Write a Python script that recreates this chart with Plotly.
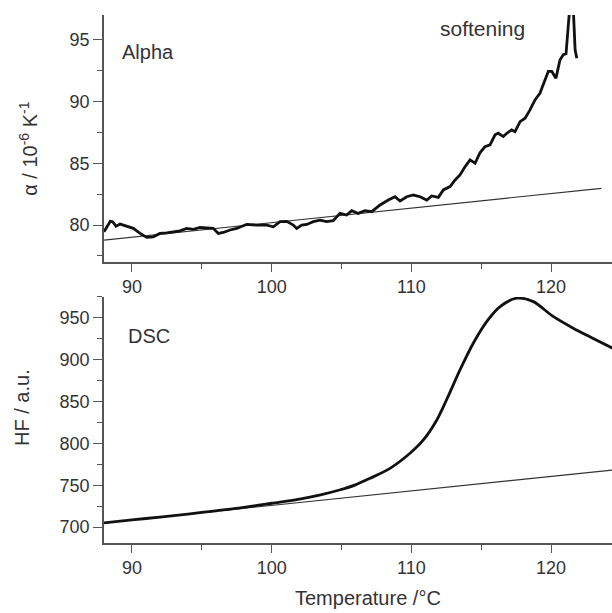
import plotly.graph_objects as go

# ---- Data: dilatometry (Alpha) ----
alpha_T = [88.0, 88.19, 88.45, 88.62, 88.86, 89.15, 89.62, 90.1, 90.58, 91.06, 91.53, 92.0,
           92.49, 92.96, 93.44, 93.92, 94.39, 94.87, 95.35, 95.82, 96.18, 96.54, 97.02, 97.5,
           97.97, 98.21, 98.93, 99.65, 100.12, 100.6, 101.08, 101.55, 101.79, 102.15, 102.51,
           102.98, 103.46, 103.94, 104.41, 104.89, 105.37, 105.73, 106.2, 106.68, 107.16,
           107.76, 108.35, 108.83, 109.19, 109.67, 110.14, 110.62, 111.1, 111.46, 111.93,
           112.29, 112.77, 113.13, 113.48, 113.84, 114.2, 114.56, 114.91, 115.27, 115.63,
           115.99, 116.22, 116.58, 116.83, 117.18, 117.42, 117.78, 118.14, 118.49, 118.85,
           119.21, 119.57, 119.8, 120.05, 120.35, 120.64, 120.88, 121.07, 121.24, 121.4,
           121.55, 121.72, 121.84]
alpha_val = [79.45, 79.86, 80.3, 80.27, 79.9, 80.08, 79.92, 79.73, 79.32, 79.0, 79.05, 79.32,
             79.37, 79.45, 79.53, 79.73, 79.65, 79.8, 79.78, 79.73, 79.32, 79.4, 79.6, 79.73,
             79.94, 80.05, 80.0, 80.0, 79.86, 80.27, 80.3, 80.0, 79.73, 80.0, 80.05,
             80.27, 80.4, 80.27, 80.35, 80.94, 80.81, 81.16, 80.94, 81.16, 81.08,
             81.62, 82.02, 82.29, 81.95, 82.29, 82.43, 82.29, 82.02, 82.35, 82.24,
             82.84, 83.11, 83.65, 84.05, 84.72, 85.27, 85.0, 85.85, 86.35, 86.49,
             87.3, 87.43, 87.16, 87.43, 87.7, 87.56, 88.37, 88.65, 89.32, 90.13,
             90.68, 91.76, 92.43, 92.43, 91.89, 93.38, 93.78, 93.86, 95.8, 98.5,
             98.5, 94.19, 93.5]
alpha_base_T = [88.0, 123.6]
alpha_base_val = [78.78, 82.97]

# ---- Data: DSC ----
dsc_T = [88.0, 90.0, 92.0, 94.0, 96.0, 98.0, 100.0, 102.0, 103.5, 104.85, 106.0, 107.04,
         108.47, 109.9, 110.86, 111.82, 112.53, 113.48, 114.43, 115.39, 116.35, 117.54,
         118.73, 120.12, 121.55, 122.98, 124.4]
dsc_val = [705.0, 708.5, 712.0, 715.5, 719.5, 723.5, 728.5, 733.5, 738.5, 744.3, 750.5, 758.3,
           770.2, 788.2, 804.1, 828.0, 852.5, 887.8, 919.7, 945.6, 963.5, 973.5,
           969.4, 952.0, 938.0, 925.7, 913.8]
dsc_base_T = [88.0, 124.4]
dsc_base_val = [705.1, 768.2]

x_ticks = [90, 100, 110, 120]
alpha_ticks = [80, 85, 90, 95]
dsc_ticks = [700, 750, 800, 850, 900, 950]

FONT = "Liberation Sans, Arial, sans-serif"
AX = "#555555"
TXT = "#333333"

fig = go.Figure()
fig.add_trace(go.Scatter(x=alpha_base_T, y=alpha_base_val, mode="lines",
                         line=dict(color="#333333", width=1.1), xaxis="x", yaxis="y",
                         showlegend=False))
fig.add_trace(go.Scatter(x=alpha_T, y=alpha_val, mode="lines",
                         line=dict(color="#111111", width=2.8), xaxis="x", yaxis="y",
                         showlegend=False))
fig.add_trace(go.Scatter(x=dsc_base_T, y=dsc_base_val, mode="lines",
                         line=dict(color="#333333", width=1.1), xaxis="x2", yaxis="y2",
                         showlegend=False))
fig.add_trace(go.Scatter(x=dsc_T, y=dsc_val, mode="lines", line_shape="spline",
                         line=dict(color="#111111", width=2.8, smoothing=0.8),
                         xaxis="x2", yaxis="y2", showlegend=False))

def xax(anchor):
    return dict(domain=[0, 1], anchor=anchor, range=[88.0, 124.36], tickvals=x_ticks,
                showline=True, linecolor=AX, linewidth=1.5, ticks="outside", ticklen=8,
                tickcolor=AX, tickwidth=1.2, showgrid=False, zeroline=False,
                tickfont=dict(family=FONT, size=18, color=TXT),
                minor=dict(dtick=5, tick0=0, ticks="outside", ticklen=5, tickcolor=AX,
                           tickwidth=1.2, showgrid=False))

def yax(anchor, domain, rng, tv, mdt):
    return dict(domain=domain, anchor=anchor, range=rng, tickvals=tv,
                ticksuffix="\u00a0\u00a0",
                showline=True, linecolor=AX, linewidth=1.5, ticks="outside", ticklen=9,
                tickcolor=AX, tickwidth=1.2, showgrid=False, zeroline=False,
                tickfont=dict(family=FONT, size=18, color=TXT),
                minor=dict(dtick=mdt, tick0=0, ticks="outside", ticklen=5, tickcolor=AX,
                           tickwidth=1.2, showgrid=False))

fig.update_layout(
    width=612, height=613,
    margin=dict(l=104, r=0, t=15, b=70),
    paper_bgcolor="white", plot_bgcolor="white",
    font=dict(family=FONT, color=TXT),
    xaxis=xax("y"),
    yaxis=yax("x", [0.532, 1.0], [77.0, 97.0], alpha_ticks, 2.5),
    xaxis2=xax("y2"),
    yaxis2=yax("x2", [0.0, 0.466], [681, 975], dsc_ticks, 25),
    annotations=[
        dict(text="Alpha", x=0.0315, y=0.93, xref="paper", yref="paper", xanchor="left",
             yanchor="middle", showarrow=False, font=dict(family=FONT, size=20, color=TXT)),
        dict(text="softening", x=0.6575, y=0.9735, xref="paper", yref="paper", xanchor="left",
             yanchor="middle", showarrow=False, font=dict(family=FONT, size=21, color=TXT)),
        dict(text="DSC", x=0.0433, y=0.392, xref="paper", yref="paper", xanchor="left",
             yanchor="middle", showarrow=False, font=dict(family=FONT, size=20, color=TXT)),
        dict(text="α / 10<sup>-6</sup> K<sup>-1</sup>", x=-0.15, y=0.748, xref="paper",
             yref="paper", xanchor="center", yanchor="middle", textangle=-90, showarrow=False,
             font=dict(family=FONT, size=20, color=TXT)),
        dict(text="HF / a.u.", x=-0.1614, y=0.2557, xref="paper", yref="paper",
             xanchor="center", yanchor="middle", textangle=-90, showarrow=False,
             font=dict(family=FONT, size=20, color=TXT)),
        dict(text="Temperature /°C", x=0.52, y=-0.104, xref="paper", yref="paper",
             xanchor="center", yanchor="middle", showarrow=False,
             font=dict(family=FONT, size=20, color=TXT)),
    ],
)

fig.write_html("out.html", config={"displayModeBar": False},
               post_script="document.body.style.margin='0';document.body.style.padding='0';"
                           "document.body.style.overflow='hidden';")
